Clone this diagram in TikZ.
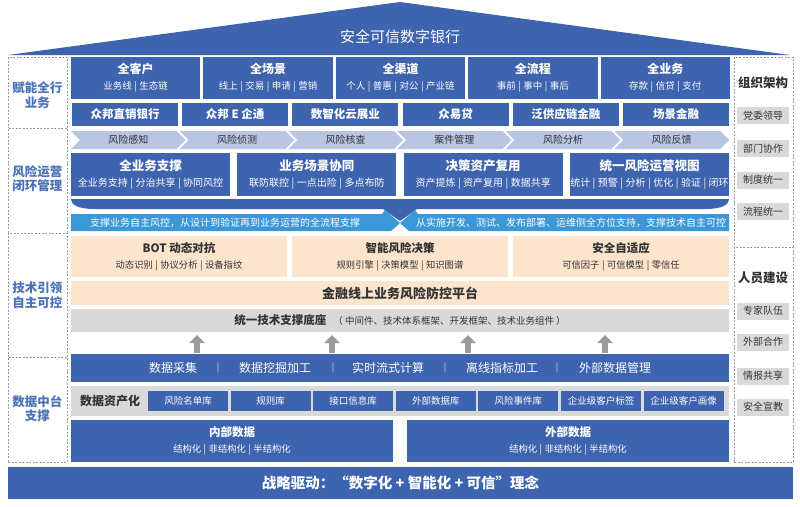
\documentclass[tikz,border=0pt]{standalone}
\usepackage{fontspec}
\setmainfont{Noto Sans CJK SC}
\usetikzlibrary{arrows.meta}
\definecolor{mb}{HTML}{3E64B0}
\definecolor{lb}{HTML}{3C97D6}
\definecolor{chev}{HTML}{BAC4E3}
\definecolor{peach}{HTML}{FCE4CD}
\definecolor{gr}{HTML}{D9D9D9}
\definecolor{dk}{HTML}{333333}
\definecolor{gar}{HTML}{9B9B9B}
\definecolor{dashc}{HTML}{9A9A9A}
\definecolor{sideblue}{HTML}{4A72BA}
\newcommand\fs[1]{\fontsize{#1}{#1}\selectfont}
\newcommand\sepw{\hspace{2.5pt}|\hspace{2.5pt}}
\newcommand\twol[2]{{\fs{12}\bfseries #1}\\[6pt]{\fs{9.5}#2}}
\newcommand\twom[2]{{\fs{12.5}\bfseries #1}\\[6pt]{\fs{10}#2}}
\newcommand\twop[2]{{\fs{11.5}\bfseries #1}\\[6pt]{\fs{9.3}#2}}
\tikzset{
  bb/.style={fill=mb, text=white, inner sep=0pt, align=center, font=\fs{10}},
  pc/.style={fill=peach, text=dk, inner sep=0pt, align=center, font=\fs{10}},
  gb/.style={fill=gr, text=dk, inner sep=0pt, align=center},
  sidebox/.style={draw=dashc, line width=0.6pt, dash pattern=on 2pt off 1.5pt, fill=white, inner sep=0pt},
  lbl/.style={text=sideblue, font=\fs{12.5}\bfseries, align=center, inner sep=0pt},
  rtitle/.style={text=dk, font=\fs{12.5}\bfseries, inner sep=0pt},
  sb/.style={fill=gr, text=dk, minimum width=52pt, minimum height=17pt, inner sep=0pt, font=\fs{10}},
  ctext/.style={text=dk, font=\fs{10}, inner sep=0pt},
  atext/.style={text=white, font=\fs{10}, inner sep=0pt},
  dtext/.style={text=white, font=\fs{12}, inner sep=0pt},
  stext/.style={text=white!75!mb, font=\fs{9}, inner sep=0pt},
  small/.style={fill=mb, text=white, minimum width=80pt, minimum height=20pt, inner sep=0pt, font=\fs{9.5}},
  uparr/.style={draw=gar, line width=6pt, -{Triangle[width=15pt,length=8pt]}}
}
\begin{document}
\begin{tikzpicture}[x=1pt,y=-1pt]
\useasboundingbox[fill=white] (0,0) rectangle (800,506);

% roof
\fill[mb] (8,55) -- (400,2) -- (790,55) -- cycle;
\node[text=white, font=\fs{15}, inner sep=0pt] (roof) at (400,37) {安全可信数字银行};

% side boxes left
\node[sidebox, minimum width=59pt, minimum height=71pt] (L1) at (37.5,92.5) {};
\node[sidebox, minimum width=59pt, minimum height=105pt] (L2) at (37.5,180.5) {};
\node[sidebox, minimum width=59pt, minimum height=124pt] (L3) at (37.5,295) {};
\node[sidebox, minimum width=59pt, minimum height=105pt] (L4) at (37.5,409.5) {};
\node[lbl] (L1t) at (37.5,95) {赋能全行\\[2pt]业务};
\node[lbl] (L2t) at (37.5,178.5) {风险运营\\[2pt]闭环管理};
\node[lbl] (L3t) at (37.5,295) {技术引领\\[2pt]自主可控};
\node[lbl] (L4t) at (37.5,408.5) {数据中台\\[2pt]支撑};

% side boxes right
\node[sidebox, minimum width=59pt, minimum height=190pt] (R1) at (763.5,152) {};
\node[sidebox, minimum width=59pt, minimum height=215pt] (R2) at (763.5,354.5) {};
\node[rtitle] (R1t) at (763,83) {组织架构};
\node[rtitle] (R2t) at (763,278) {人员建设};
\node[sb] (s1) at (763,115.5) {党委领导};
\node[sb] (s2) at (763,148.5) {部门协作};
\node[sb] (s3) at (763,180) {制度统一};
\node[sb] (s4) at (763,211.5) {流程统一};
\node[sb] (s5) at (763,311) {专家队伍};
\node[sb] (s6) at (763,342) {外部合作};
\node[sb] (s7) at (763,376) {情报共享};
\node[sb] (s8) at (763,407) {安全宣教};

% row 1
\node[bb, minimum width=129.4pt, minimum height=42pt] (a1) at (135.7,78) {\twol{全客户}{业务线\sepw 生态链}};
\node[bb, minimum width=129.4pt, minimum height=42pt] (a2) at (268.1,78) {\twol{全场景}{线上\sepw 交易\sepw 申请\sepw 营销}};
\node[bb, minimum width=129.4pt, minimum height=42pt] (a3) at (400.5,78) {\twol{全渠道}{个人\sepw 普惠\sepw 对公\sepw 产业链}};
\node[bb, minimum width=129.4pt, minimum height=42pt] (a4) at (532.9,78) {\twol{全流程}{事前\sepw 事中\sepw 事后}};
\node[bb, minimum width=129.4pt, minimum height=42pt] (a5) at (665.3,78) {\twol{全业务}{存款\sepw 信贷\sepw 支付}};

% row 2
\foreach \x/\t [count=\i] in {125/众邦直销银行,235.2/众邦 E 企通,345.4/数智化云展业,455.6/众易贷,565.8/泛供应链金融,676/场景金融}{
  \node[bb, minimum width=106pt, minimum height=23pt, font=\fs{11.5}\bfseries] (b\i) at (\x,114.5) {\t};
}

% row 3 chevrons
\foreach \t [count=\i from 0] in {风险感知,风险侦测,风险核查,案件管理,风险分析,风险反馈}{
  \pgfmathsetmacro\xa{71+\i*108.67}
  \pgfmathsetmacro\xb{\xa+105.67}
  \fill[chev] (\xa,131) -- (\xb,131) -- (\xb+9,140) -- (\xb,149) -- (\xa,149) -- (\xa+9,140) -- cycle;
  \node[ctext] (ch\i) at ({(\xa+\xb+9)/2},140) {\t};
}

% row 4
\node[bb, minimum width=159pt, minimum height=43pt] (c1) at (150.5,174.5) {\twom{全业务支撑}{全业务支持\sepw 分治共享\sepw 协同风控}};
\node[bb, minimum width=159pt, minimum height=43pt] (c2) at (316.8,174.5) {\twom{业务场景协同}{联防联控\sepw 一点出险\sepw 多点布防}};
\node[bb, minimum width=159pt, minimum height=43pt] (c3) at (483.2,174.5) {\twom{决策资产复用}{资产提炼\sepw 资产复用\sepw 数据共享}};
\node[bb, minimum width=159pt, minimum height=43pt] (c4) at (649.5,174.5) {\twom{统一风险运营视图}{统计\sepw 预警\sepw 分析\sepw 优化\sepw 验证\sepw 闭环}};

% row 5 band and arrows
\fill[mb] (71,199) -- (729,199) .. controls (729,205) and (722,209) .. (705,209) -- (417,209) -- (400,221) -- (383,209) -- (95,209) .. controls (78,209) and (71,205) .. (71,199) -- cycle;
\fill[lb] (71,214) -- (382,214) -- (385,210) -- (400,223) -- (391,231) -- (71,231) -- cycle;
\fill[lb] (729,214) -- (418,214) -- (415,210) -- (400,223) -- (409,231) -- (729,231) -- cycle;
\node[atext] (t1) at (225,222.5) {支撑业务自主风控，从设计到验证再到业务运营的全流程支撑};
\node[atext] (t2) at (571,222.5) {从实施开发、测试、发布部署、运维侧全方位支持，支撑技术自主可控};

% row 6 peach
\node[pc, minimum width=216pt, minimum height=41pt] (d1) at (179,256.5) {\twop{BOT 动态对抗}{动态识别\sepw 协议分析\sepw 设备指纹}};
\node[pc, minimum width=216pt, minimum height=41pt] (d2) at (400,256.5) {\twop{智能风险决策}{规则引擎\sepw 决策模型\sepw 知识图谱}};
\node[pc, minimum width=216pt, minimum height=41pt] (d3) at (621,256.5) {\twop{安全自适应}{可信因子\sepw 可信模型\sepw 零信任}};

% row 7
\node[pc, minimum width=658pt, minimum height=24pt, font=\fs{13}\bfseries] (e1) at (400,293) {金融线上业务风险防控平台};

% row 8
\node[gb, minimum width=658pt, minimum height=23pt] (f1) at (400,320.5) {{\fs{11.5}\bfseries 统一技术支撑底座}\hspace{7pt}{\fs{9.5}（ 中间件、技术体系框架、开发框架、技术业务组件 ）}};

% up arrows
\foreach \x [count=\i] in {197,332,468,605}{
  \coordinate (ab\i) at (\x,353);
  \coordinate (at\i) at (\x,335);
  \draw[uparr] (ab\i) -- (at\i);
}

% row 9
\node[bb, minimum width=658pt, minimum height=28pt] (g0) at (400,368) {};
\foreach \x/\t [count=\i] in {173/数据采集,275/数据挖掘加工,388/实时流式计算,502/离线指标加工,615/外部数据管理}{
  \node[dtext] (g\i) at (\x,368) {\t};
}
\foreach \x [count=\i] in {218,333,445,557}{
  \node[stext] (gs\i) at (\x,368) {|};
}

% row 10
\node[gb, minimum width=658pt, minimum height=30pt] (h0) at (400,401) {};
\node[text=dk, font=\fs{12}\bfseries, inner sep=0pt] (h00) at (110,401) {数据资产化};
\foreach \t [count=\i from 0] in {风险名单库,规则库,接口信息库,外部数据库,风险事件库,企业级客户标签,企业级客户画像}{
  \node[small] (h\i x) at ({188+\i*82.6},401) {\t};
}

% row 11
\node[bb, minimum width=322pt, minimum height=42pt] (k1) at (232,441) {\twop{内部数据}{结构化\sepw 非结构化\sepw 半结构化}};
\node[bb, minimum width=322pt, minimum height=42pt] (k2) at (568,441) {\twop{外部数据}{结构化\sepw 非结构化\sepw 半结构化}};

% row 12
\node[bb, minimum width=785pt, minimum height=32pt, font=\fs{14.5}\bfseries] (m1) at (400.5,483) {战略驱动：“数字化 + 智能化 + 可信”理念};
\end{tikzpicture}
\end{document}
